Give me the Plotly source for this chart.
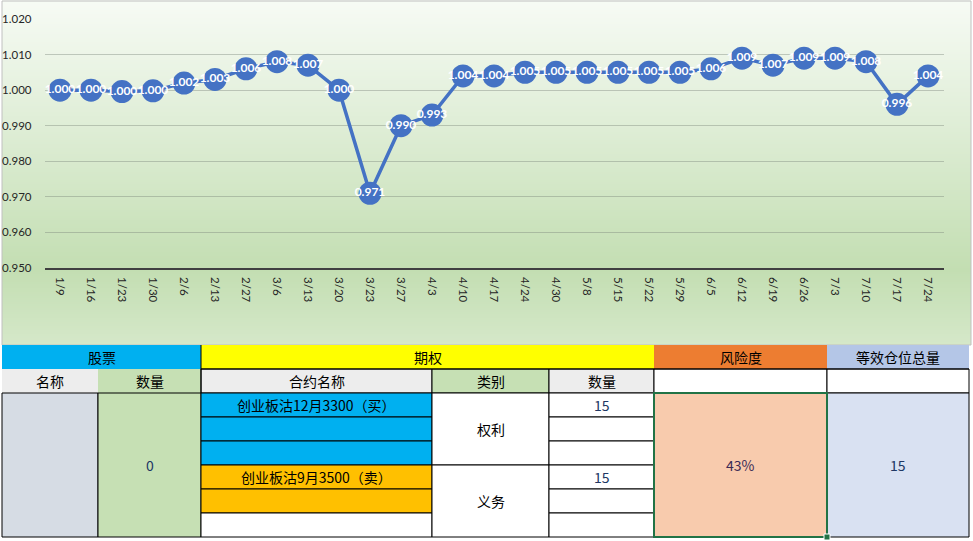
import plotly.graph_objects as go

W, H = 973, 541

# line chart data
dates = ["1/9", "1/16", "1/23", "1/30", "2/6", "2/13", "2/27", "3/6", "3/13", "3/20",
         "3/23", "3/27", "4/3", "4/10", "4/17", "4/24", "4/30", "5/8", "5/15", "5/22",
         "5/29", "6/5", "6/12", "6/19", "6/26", "7/3", "7/10", "7/17", "7/24"]
nav = [1.000, 1.000, 0.9996, 0.9998, 1.002, 1.003, 1.006, 1.008, 1.007, 1.000,
       0.971, 0.990, 0.993, 1.004, 1.004, 1.005, 1.005, 1.005, 1.005, 1.005,
       1.005, 1.006, 1.009, 1.007, 1.009, 1.009, 1.008, 0.996, 1.004]

# table content
top_headers = ["股票", "期权", "风险度", "等效仓位总量"]
sub_headers = ["名称", "数量", "合约名称", "类别", "数量", "", ""]
stock_qty = "0"
contracts = ["创业板沽12月3300（买）", "", "", "创业板沽9月3500（卖）", "", ""]
option_types = ["权利", "义务"]
option_qty = ["15", "", "", "15", "", ""]
risk_level = "43%"
equiv_total = "15"

CJK = "Noto Sans CJK SC"
LAT = "Lato, 'Noto Sans', sans-serif"
NUM_COLOR = "#203764"

shapes = []
annotations = []

# chart area gradient (top light -> green -> slightly lighter at the bottom)
stops = [(0, (247, 251, 245)), (130, (222, 237, 213)), (270, (195, 222, 178)), (345, (213, 232, 201))]


def grad_color(y):
    for (y0, c0), (y1, c1) in zip(stops[:-1], stops[1:]):
        if y0 <= y <= y1:
            t = (y - y0) / (y1 - y0)
            return "rgb(%d,%d,%d)" % tuple(round(a + (b - a) * t) for a, b in zip(c0, c1))
    return "rgb(%d,%d,%d)" % stops[-1][1]


step = 2
for y in range(0, 345, step):
    shapes.append(dict(type="rect", xref="paper", yref="paper", layer="below",
                       x0=2 / W, x1=971 / W, y0=1 - min(y + step, 345) / H, y1=1 - y / H,
                       fillcolor=grad_color(y + step / 2), line=dict(width=0)))
shapes.append(dict(type="rect", xref="paper", yref="paper", layer="below",
                   x0=2 / W, x1=971 / W, y0=1 - 345 / H, y1=1 - 1 / H,
                   line=dict(color="#c0c0c0", width=1)))

# table geometry (pixels)
cx = [2, 98, 201, 432, 549, 654, 827, 969]
ry = [345 + 24 * i for i in range(9)]


def cell(c0, c1, r0, r1, fill, text="", color="black", border=True):
    shapes.append(dict(type="rect", xref="x2", yref="y2",
                       x0=cx[c0], x1=cx[c1], y0=ry[r0], y1=ry[r1], fillcolor=fill,
                       line=dict(color="black", width=1) if border else dict(width=0)))
    if text:
        annotations.append(dict(xref="x2", yref="y2", x=(cx[c0] + cx[c1]) / 2,
                                y=(ry[r0] + ry[r1]) / 2, text=text, showarrow=False,
                                font=dict(family=CJK, size=14, color=color)))


# header row
cell(0, 2, 0, 1, "#00b0f0", top_headers[0], border=False)
cell(2, 5, 0, 1, "#ffff00", top_headers[1], border=False)
cell(5, 6, 0, 1, "#ed7d31", top_headers[2], border=False)
cell(6, 7, 0, 1, "#b4c6e7", top_headers[3], border=False)
# sub header row
sub_fills = ["#ededed", "#c6e0b4", "#ededed", "#c6e0b4", "#ededed", "white", "white"]
for i, (txt, fc) in enumerate(zip(sub_headers, sub_fills)):
    cell(i, i + 1, 1, 2, fc, txt, border=i >= 2)
shapes.append(dict(type="line", xref="x2", yref="y2", x0=201, x1=201, y0=345, y1=393,
                   line=dict(color="black", width=1)))
shapes.append(dict(type="line", xref="x2", yref="y2", x0=201, x1=969, y0=369, y1=369,
                   line=dict(color="black", width=1)))

# body
cell(0, 1, 2, 8, "#d6dce4")
cell(1, 2, 2, 8, "#c6e0b4", stock_qty, NUM_COLOR)
contract_fills = ["#00b0f0"] * 3 + ["#ffc000"] * 2 + ["white"]
for i, (txt, fc) in enumerate(zip(contracts, contract_fills)):
    cell(2, 3, 2 + i, 3 + i, fc, txt)
cell(3, 4, 2, 5, "white", option_types[0])
cell(3, 4, 5, 8, "white", option_types[1])
for i, txt in enumerate(option_qty):
    cell(4, 5, 2 + i, 3 + i, "white", txt, NUM_COLOR)
cell(6, 7, 2, 8, "#d9e1f2", equiv_total, NUM_COLOR)
cell(5, 6, 2, 8, "#f8cbad", risk_level, "#3b2a55")
# selected cell outline
shapes.append(dict(type="rect", xref="x2", yref="y2", x0=cx[5], x1=cx[6], y0=ry[2], y1=ry[8],
                   line=dict(color="#217346", width=2)))
shapes.append(dict(type="rect", xref="x2", yref="y2", x0=cx[6] - 3, x1=cx[6] + 3,
                   y0=ry[8] - 3, y1=ry[8] + 3, fillcolor="#217346",
                   line=dict(color="white", width=1)))

fig = go.Figure()
fig.add_trace(go.Scatter(
    x=dates, y=nav, mode="lines+markers+text",
    line=dict(color="#4472c4", width=3.5),
    marker=dict(size=23, color="#4472c4"),
    texttemplate="%{y:.3f}", textposition="middle center",
    textfont=dict(family=LAT, size=12, color="white", weight="bold"),
    cliponaxis=False, hoverinfo="x+y", showlegend=False))
# invisible trace to set up the table axes
fig.add_trace(go.Scatter(x=[0], y=[0], xaxis="x2", yaxis="y2", mode="markers",
                         marker=dict(opacity=0), hoverinfo="skip", showlegend=False))

fig.update_layout(
    width=W, height=H,
    margin=dict(l=0, r=0, t=0, b=0, pad=0, autoexpand=False),
    showlegend=False,
    paper_bgcolor="white", plot_bgcolor="rgba(0,0,0,0)",
    xaxis=dict(domain=[44.5 / W, 943.5 / W], type="category", range=[-0.5, 28.5],
               tickangle=90, automargin=False,
               showgrid=False, showline=True, linecolor="#404040", linewidth=1.5,
               ticks="", ticklabelstandoff=5,
               tickfont=dict(family=LAT, size=11.5, color="#262626")),
    yaxis=dict(domain=[1 - 268 / H, 1 - 19 / H], range=[0.95, 1.02], dtick=0.01,
               tickformat=".3f", showgrid=True, gridcolor="rgba(120,130,120,0.40)",
               gridwidth=1, zeroline=False, ticks="", ticklabelstandoff=12,
               automargin=False,
               tickfont=dict(family=LAT, size=11.5, color="#262626")),
    xaxis2=dict(domain=[0, 1], range=[0, W], anchor="y2", visible=False,
                fixedrange=True, automargin=False),
    yaxis2=dict(domain=[0, 1], range=[H, 0], anchor="x2", visible=False,
                fixedrange=True, automargin=False),
    shapes=shapes, annotations=annotations,
)

fig.write_html("out.html", config={"displayModeBar": False},
               post_script="document.body.style.margin='0';")
